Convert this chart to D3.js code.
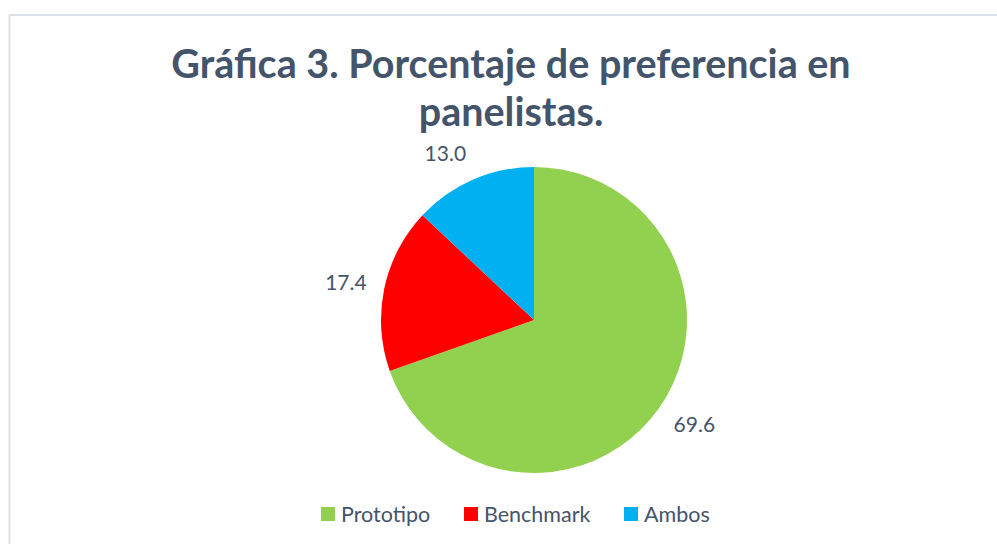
<!DOCTYPE html>
<html>
<head>
<meta charset="utf-8">
<script src="https://cdn.jsdelivr.net/npm/d3@7"></script>
<style>
  html, body { margin: 0; padding: 0; background: #ffffff; }
  svg { display: block; }
</style>
</head>
<body>
<svg id="chart" width="997" height="544"></svg>
<script>
// Preference share among panelists
const categories = ["Prototipo", "Benchmark", "Ambos"];
const values = [69.6, 17.4, 13.0];
const colors = ["#92D050", "#FF0000", "#00B0F0"];
const titleLines = ["Gráfica 3. Porcentaje de preferencia en", "panelistas."];

const W = 997, H = 544;
const textColor = "#44546A";
const font = "Lato, 'Open Sans', 'Liberation Sans', sans-serif";

const svg = d3.select("#chart");

// chart frame
svg.append("rect")
  .attr("x", 9.5).attr("y", 15)
  .attr("width", W).attr("height", H)
  .attr("fill", "#ffffff")
  .attr("stroke", "#DEE2E8")
  .attr("stroke-width", 2);

// title
const title = svg.append("text")
  .attr("text-anchor", "middle")
  .attr("font-family", font)
  .attr("font-weight", "bold")
  .attr("font-size", 39.5)
  .attr("fill", textColor);
titleLines.forEach((t, i) => {
  title.append("tspan")
    .attr("x", 511)
    .attr("y", 78 + i * 48)
    .text(t);
});

// pie
const cx = 534, cy = 320, r = 153;
const data = categories.map((c, i) => ({ name: c, value: values[i], color: colors[i] }));
const pie = d3.pie().value(d => d.value).sort(null);
const arc = d3.arc().innerRadius(0).outerRadius(r);
const arcs = pie(data);

const g = svg.append("g").attr("transform", `translate(${cx},${cy})`);
g.selectAll("path.slice")
  .data(arcs)
  .join("path")
  .attr("class", "slice")
  .attr("d", arc)
  .attr("fill", d => d.data.color);

// outside-end value labels
const labelR = r + 18;
g.selectAll("text.value")
  .data(arcs)
  .join("text")
  .attr("class", "value")
  .each(function (d) {
    const a = (d.startAngle + d.endAngle) / 2;
    const sx = Math.sin(a), cyv = -Math.cos(a);
    d3.select(this)
      .attr("x", labelR * sx)
      .attr("y", labelR * cyv + 10 * cyv)
      .attr("text-anchor", sx >= 0 ? "start" : "end");
  })
  .attr("dy", "0.35em")
  .attr("font-family", font)
  .attr("font-size", 21)
  .attr("fill", textColor)
  .text(d => d3.format(".1f")(d.data.value));

// legend
const legendX = [321, 464, 624];
const legend = svg.append("g");
data.forEach((d, i) => {
  legend.append("rect")
    .attr("x", legendX[i]).attr("y", 507)
    .attr("width", 14).attr("height", 14)
    .attr("fill", d.color);
  legend.append("text")
    .attr("x", legendX[i] + 20).attr("y", 514)
    .attr("dy", "0.35em")
    .attr("font-family", font)
    .attr("font-size", 21.5)
    .attr("fill", textColor)
    .text(d.name);
});
</script>
</body>
</html>
